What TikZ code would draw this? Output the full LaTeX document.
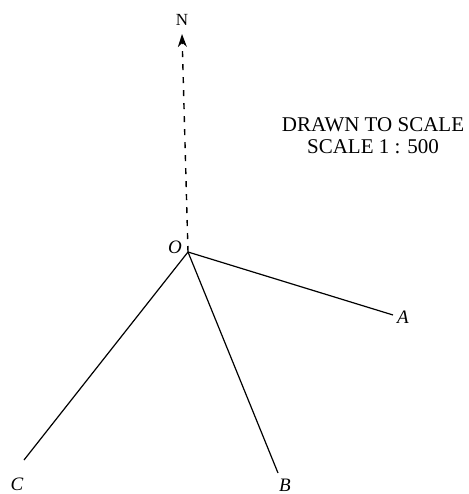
\documentclass[tikz,border=0pt]{standalone}
\usepackage{fontspec}
\setmainfont{Liberation Serif}
\usetikzlibrary{arrows.meta}
\begin{document}
\begin{tikzpicture}[x=1pt,y=-1pt,
  leg/.style={line width=1.2pt},
  northline/.style={line width=1.4pt, dash pattern=on 6pt off 7pt,
    -{Stealth[length=13pt,width=9pt]}},
  lbl/.style={font=\fontsize{19}{21}\selectfont\itshape, inner sep=0pt},
  note/.style={font=\fontsize{21}{22}\selectfont, align=center, inner sep=0pt}]
\useasboundingbox (0,0) rectangle (468,494);
\coordinate (O) at (188,252);
\coordinate (Ntip) at (182,34);
\coordinate (A) at (393,315);
\coordinate (B) at (278,473);
\coordinate (C) at (24,460);
\draw[leg] (O) -- (A);
\draw[leg] (O) -- (B);
\draw[leg] (O) -- (C);
\draw[northline] (O) -- (Ntip);
\node[inner sep=0pt, font=\fontsize{17}{19}\selectfont] (Nlab) at (182,20) {N};
\node[lbl] (Olab) at (175,247) {O};
\node[lbl] (Alab) at (403,317) {A};
\node[lbl] (Blab) at (285,485) {B};
\node[lbl] (Clab) at (17,484) {C};
\node[note] (title) at (373,136) {DRAWN TO SCALE\\SCALE 1 : 500};
\end{tikzpicture}
\end{document}
